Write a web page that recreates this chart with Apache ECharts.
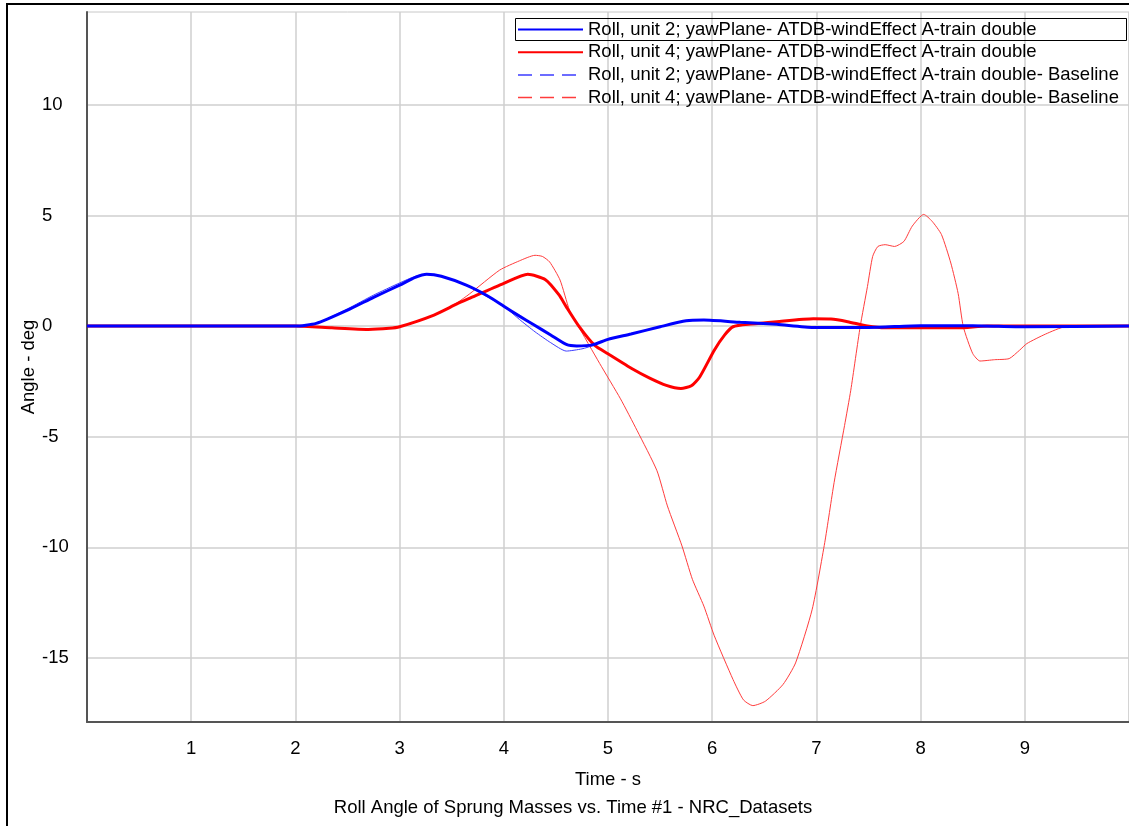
<!DOCTYPE html>
<html>
<head>
<meta charset="utf-8">
<script src="https://cdn.jsdelivr.net/npm/echarts@6/dist/echarts.min.js"></script>
<style>
  html, body { margin: 0; padding: 0; background: #fff; }
  #chart { width: 1129px; height: 826px; }
</style>
</head>
<body>
<div id="chart"></div>
<script>
// legend names
var names = [
    'Roll, unit 2; yawPlane- ATDB-windEffect A-train double',
    'Roll, unit 4; yawPlane- ATDB-windEffect A-train double',
    'Roll, unit 2; yawPlane- ATDB-windEffect A-train double- Baseline',
    'Roll, unit 4; yawPlane- ATDB-windEffect A-train double- Baseline'
];

// unit 2 (blue, thick)
var timeU2 = [0, 1, 2.0, 2.2, 2.5, 2.75, 3.0, 3.15, 3.26, 3.4, 3.64, 3.85, 4.0, 4.15, 4.28, 4.45, 4.6, 4.7, 4.85, 5.0, 5.22, 5.5, 5.75, 5.92, 6.27, 6.62, 6.97, 7.5, 8.0, 8.5, 9.0, 10];
var rollU2 = [0, 0, 0, 0.12, 0.72, 1.3, 1.85, 2.2, 2.34, 2.25, 1.85, 1.35, 0.9, 0.45, 0.08, -0.4, -0.83, -0.9, -0.85, -0.6, -0.36, -0.03, 0.24, 0.27, 0.17, 0.08, -0.06, -0.06, 0.02, 0.02, -0.03, 0];

// unit 4 (red, thick)
var timeU4 = [0, 2.0, 2.35, 2.7, 2.9, 3.0, 3.33, 3.55, 3.67, 4.0, 4.23, 4.4, 4.53, 4.6, 4.72, 4.87, 5.0, 5.24, 5.4, 5.56, 5.7, 5.8, 5.88, 6.02, 6.12, 6.2, 6.37, 6.62, 6.97, 7.14, 7.3, 7.49, 7.66, 8.36, 8.64, 10];
var rollU4 = [0, 0, -0.08, -0.15, -0.1, -0.03, 0.5, 1.0, 1.25, 1.93, 2.34, 2.1, 1.41, 0.87, 0, -0.86, -1.25, -1.95, -2.35, -2.68, -2.82, -2.7, -2.3, -1.09, -0.4, -0.03, 0.09, 0.2, 0.33, 0.32, 0.2, 0, -0.08, -0.08, 0, 0];

// unit 2 baseline (blue, thin)
var timeU2b = [0, 2.0, 2.2, 2.5, 2.75, 3.0, 3.15, 3.26, 3.4, 3.64, 3.85, 4.0, 4.15, 4.3, 4.45, 4.6, 4.75, 4.87, 5.0, 5.22, 5.5, 5.75, 5.92, 6.27, 6.62, 6.97, 7.5, 8.0, 9.0, 10];
var rollU2b = [0, 0, 0.12, 0.78, 1.4, 1.95, 2.25, 2.34, 2.25, 1.85, 1.3, 0.9, 0.3, -0.26, -0.75, -1.13, -1.03, -0.86, -0.6, -0.36, -0.03, 0.24, 0.27, 0.17, 0.08, -0.06, -0.06, 0.02, -0.03, 0];

// unit 4 baseline (red, thin)
var timeU4b = [0, 2.0, 2.35, 2.7, 3.0, 3.33, 3.55, 3.67, 3.96, 4.15, 4.3, 4.37, 4.44, 4.54, 4.63, 4.7, 4.92, 5.12, 5.28, 5.47, 5.57, 5.71, 5.81, 5.92, 6.02, 6.2, 6.3, 6.39, 6.51, 6.68, 6.8, 6.96, 7.08, 7.17, 7.27, 7.33, 7.42, 7.49, 7.54, 7.59, 7.66, 7.75, 7.84, 7.92, 8.03, 8.11, 8.2, 8.29, 8.36, 8.41, 8.5, 8.57, 8.71, 8.85, 8.95, 9.02, 9.2, 9.39, 10];
var rollU4b = [0, 0, -0.08, -0.15, -0.03, 0.5, 1.05, 1.45, 2.53, 2.95, 3.2, 3.15, 2.9, 2.08, 0.72, 0.12, -1.69, -3.29, -4.73, -6.54, -8.13, -9.94, -11.45, -12.66, -14.0, -15.98, -16.9, -17.16, -16.96, -16.2, -15.23, -12.8, -9.79, -7.07, -4.5, -2.9, -0.03, 1.79, 3.15, 3.6, 3.68, 3.6, 3.83, 4.52, 5.05, 4.74, 4.14, 2.85, 1.48, -0.03, -1.24, -1.58, -1.52, -1.47, -1.09, -0.79, -0.36, -0.03, 0];

var yTicks = [-15, -10, -5, 0, 5, 10];

function pairs(t, v) {
    return t.map(function (x, i) { return [x, v[i]]; });
}

var font = 'Liberation Sans';
var fs = 18.5;
var myChart = echarts.init(document.getElementById('chart'));

var option = {
    backgroundColor: '#fff',
    animation: false,
    textStyle: { fontFamily: font },
    grid: {
        left: 87, right: 0, top: 12, bottom: 104,
        show: true, borderColor: '#c8c8c8', borderWidth: 1
    },
    legend: {
        orient: 'vertical',
        left: 512, top: 15,
        itemWidth: 65, itemHeight: 18, itemGap: 3.7,
        selectedMode: false,
        itemStyle: { opacity: 0 },
        textStyle: { fontSize: fs, color: '#000', lineHeight: 18, fontFamily: font },
        data: [
            { name: names[0] },
            { name: names[1] },
            { name: names[2], lineStyle: { type: [14, 8], width: 1.5 } },
            { name: names[3], lineStyle: { type: [14, 8], width: 1.5 } }
        ]
    },
    xAxis: {
        type: 'value',
        min: 0, max: 10, interval: 1,
        name: 'Time - s',
        nameLocation: 'middle',
        nameGap: 48,
        nameMoveOverlap: false,
        nameTextStyle: { fontSize: fs, color: '#000', fontFamily: font },
        axisLine: { show: true, onZero: false, lineStyle: { color: '#555', width: 2 } },
        axisTick: { show: false },
        axisLabel: {
            fontSize: fs, color: '#000', margin: 17,
            showMinLabel: false, showMaxLabel: false
        },
        splitLine: { lineStyle: { color: '#cfcfcf', width: 1.5 } }
    },
    yAxis: {
        type: 'value',
        min: -17.9, max: 14.2,
        name: 'Angle - deg',
        nameLocation: 'middle',
        nameGap: 49,
        nameMoveOverlap: false,
        nameTextStyle: { fontSize: fs, color: '#000', fontFamily: font },
        axisLine: { show: true, onZero: false, lineStyle: { color: '#555', width: 2 } },
        axisTick: { show: false, customValues: yTicks },
        axisLabel: {
            fontSize: fs, color: '#000', margin: 45, align: 'left',
            customValues: yTicks
        },
        splitLine: { lineStyle: { color: '#cfcfcf', width: 1.5 } }
    },
    series: [
        {
            name: names[2], type: 'line', symbol: 'none', smooth: 0.2,
            lineStyle: { color: '#3c3cff', width: 1 }, itemStyle: { color: '#3c3cff' },
            data: pairs(timeU2b, rollU2b)
        },
        {
            name: names[3], type: 'line', symbol: 'none', smooth: 0.2,
            lineStyle: { color: '#ff3c3c', width: 1 }, itemStyle: { color: '#ff5050' },
            data: pairs(timeU4b, rollU4b)
        },
        {
            name: names[1], type: 'line', symbol: 'none', smooth: 0.2,
            lineStyle: { color: '#ff0000', width: 3 }, itemStyle: { color: '#ff0000' },
            data: pairs(timeU4, rollU4)
        },
        {
            name: names[0], type: 'line', symbol: 'none', smooth: 0.2,
            lineStyle: { color: '#0000ff', width: 3 }, itemStyle: { color: '#0000ff' },
            data: pairs(timeU2, rollU2)
        }
    ],
    graphic: [
        // outer frame
        {
            type: 'rect', silent: true,
            shape: { x: 7, y: 4, width: 1140, height: 840 },
            style: { fill: null, stroke: '#000', lineWidth: 2 }
        },
        // box round first legend item
        {
            type: 'rect', silent: true, z: 100,
            shape: { x: 515.5, y: 18.5, width: 611, height: 22 },
            style: { fill: null, stroke: '#000', lineWidth: 1 }
        },
        {
            type: 'text', silent: true,
            x: 573, y: 808,
            style: {
                text: 'Roll Angle of Sprung Masses vs. Time #1 - NRC_Datasets',
                align: 'center', verticalAlign: 'middle',
                font: fs + 'px "Liberation Sans"', fill: '#000'
            }
        }
    ]
};

myChart.setOption(option);
</script>
</body>
</html>
